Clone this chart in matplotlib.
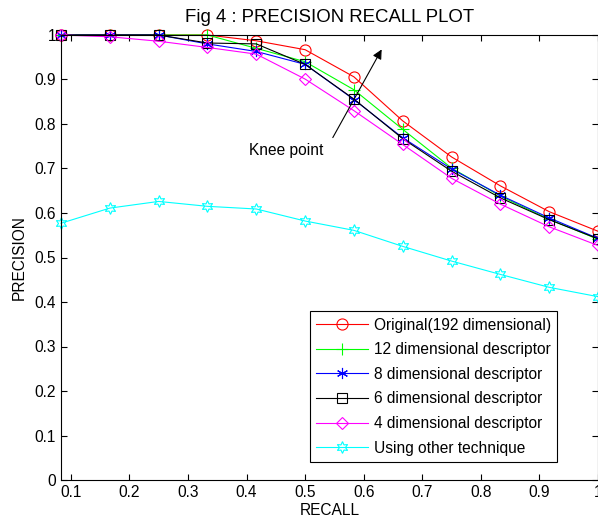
import matplotlib
matplotlib.use('Agg')
import matplotlib.pyplot as plt
import numpy as np
from matplotlib.ticker import FormatStrFormatter

plt.rcParams['font.family'] = ['Liberation Sans', 'DejaVu Sans']
plt.rcParams['font.size'] = 11.2

recall = [1/12, 2/12, 3/12, 4/12, 5/12, 6/12, 7/12, 8/12, 9/12, 10/12, 11/12, 1.0]

original = [1.0, 1.0, 1.0, 1.0, 0.987, 0.967, 0.906, 0.807, 0.726, 0.661, 0.603, 0.559]
dim12 = [1.0, 1.0, 1.0, 1.0, 0.970, 0.940, 0.877, 0.788, 0.701, 0.638, 0.586, 0.541]
dim8 = [1.0, 1.0, 1.0, 0.980, 0.963, 0.934, 0.855, 0.769, 0.699, 0.640, 0.589, 0.543]
dim6 = [1.0, 1.0, 1.0, 0.982, 0.980, 0.934, 0.856, 0.767, 0.694, 0.634, 0.585, 0.542]
dim4 = [1.0, 0.996, 0.986, 0.972, 0.957, 0.901, 0.830, 0.754, 0.678, 0.620, 0.569, 0.527]
other = [0.577, 0.611, 0.626, 0.615, 0.609, 0.582, 0.561, 0.525, 0.492, 0.462, 0.433, 0.412]

# matlab-ish markers: asterisk = 6 arms, hexagram = 6-point star
series = [
    (original, '#ff0000', 'o', 8, 'Original(192 dimensional)'),
    (dim12, '#00ff00', '+', 9, '12 dimensional descriptor'),
    (dim8, '#0000ff', (6, 2, 0), 8, '8 dimensional descriptor'),
    (dim6, '#000000', 's', 7.5, '6 dimensional descriptor'),
    (dim4, '#ff00ff', 'D', 6.5, '4 dimensional descriptor'),
    (other, '#00ffff', (6, 1, 0), 8.5, 'Using other technique'),
]

fig = plt.figure(figsize=(5.98, 5.24), dpi=100)
ax = fig.add_axes([61/598, 1 - 480/524, 537/598, 445/524])

for vals, col, mk, ms, lab in series:
    ax.plot(recall, vals, color=col, marker=mk, markersize=ms, lw=0.8,
            markerfacecolor='none', markeredgecolor=col, markeredgewidth=0.8,
            label=lab, clip_on=False)

ax.set_xlim(1/12, 1.0)
ax.set_ylim(0, 1)
ax.set_xticks(np.arange(0.1, 1.01, 0.1))
ax.set_yticks(np.arange(0, 1.01, 0.1))
ax.xaxis.set_major_formatter(FormatStrFormatter('%g'))
ax.yaxis.set_major_formatter(FormatStrFormatter('%g'))
ax.tick_params(direction='in', top=True, right=True, length=4, width=0.8)
for s in ax.spines.values():
    s.set_linewidth(0.8)

ax.set_xlabel('RECALL', labelpad=2)
ax.set_ylabel('PRECISION', labelpad=6)
ax.set_title('Fig 4 : PRECISION RECALL PLOT', pad=9)

ax.annotate('', xy=(0.633, 0.973), xytext=(0.545, 0.764),
            arrowprops=dict(arrowstyle='-|>', color='k', lw=0.8,
                            mutation_scale=14))
ax.text(0.405, 0.741, 'Knee point', ha='left', va='center')

leg = ax.legend(loc='lower left', bbox_to_anchor=(0.4637, 0.0405),
                borderaxespad=0, fancybox=False, edgecolor='k', framealpha=1,
                handlelength=3.3, handletextpad=0.4, labelspacing=0.62,
                borderpad=0.4)
leg.get_frame().set_linewidth(0.8)

fig.savefig('out.png', dpi=100)
